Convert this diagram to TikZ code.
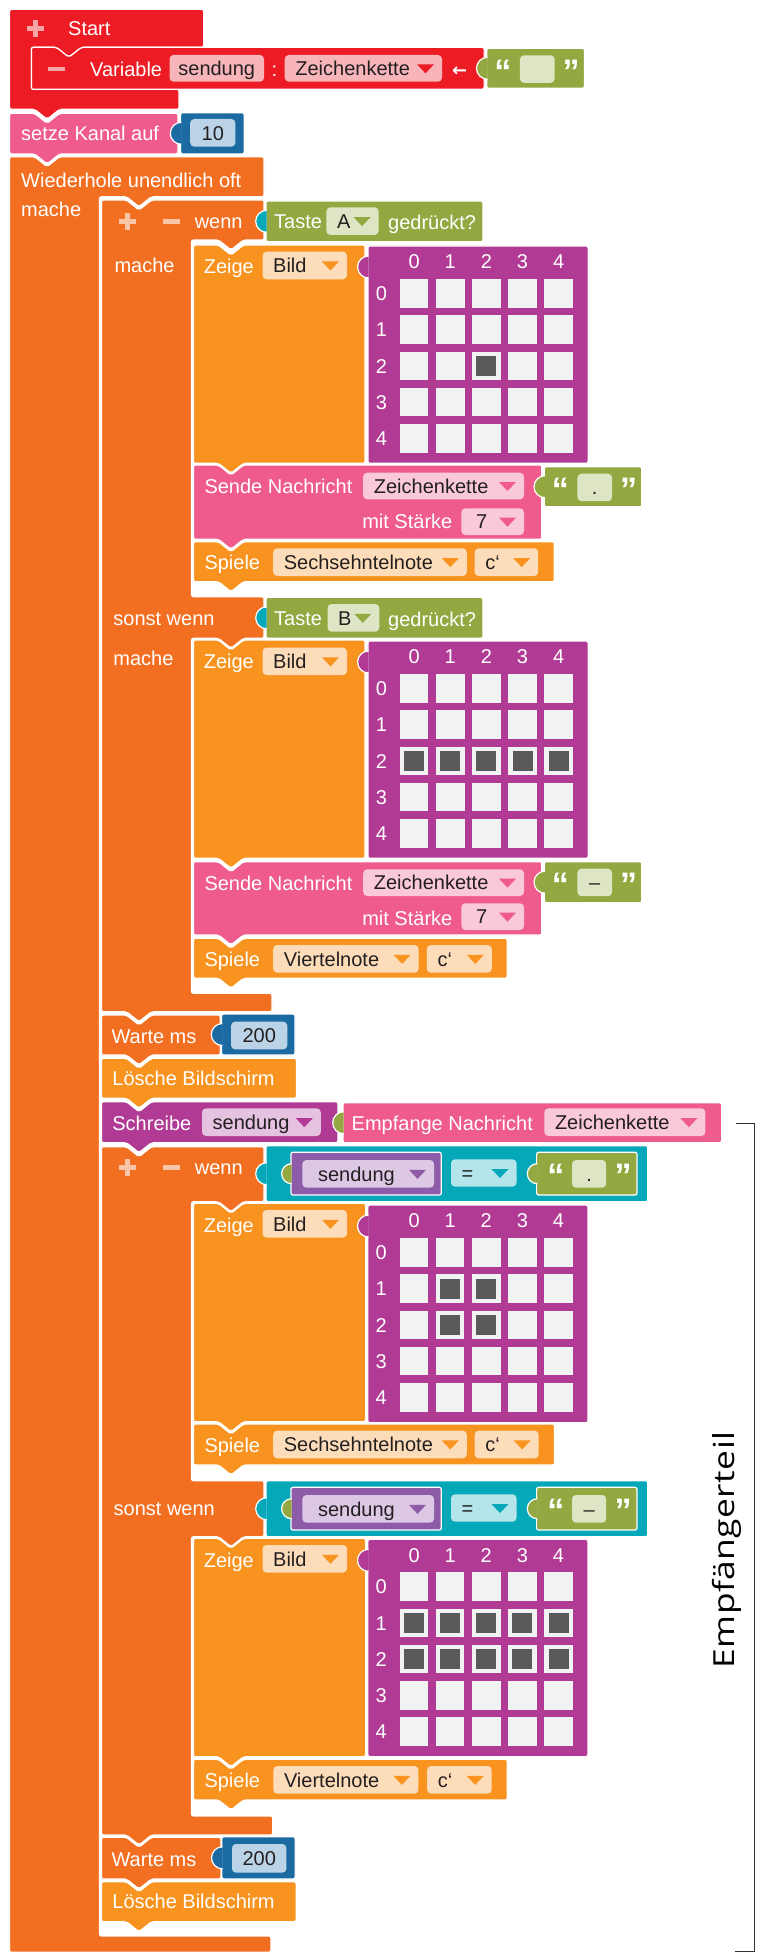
\documentclass[tikz,border=0pt]{standalone}
\usepackage{fontspec}
\setmainfont{Liberation Sans}
\newfontfamily\emfont[FakeStretch=1.22, LetterSpace=1.5]{Open Sans}
\newfontfamily\arrowfont{DejaVu Sans}
\definecolor{cred}{HTML}{ED1C24}
\definecolor{credl}{HTML}{F7B5B9}
\definecolor{cpink}{HTML}{EF5B8D}
\definecolor{cpinkl}{HTML}{F9C8DA}
\definecolor{corange}{HTML}{F26F21}
\definecolor{cyel}{HTML}{F7931E}
\definecolor{cyell}{HTML}{FDDDB9}
\definecolor{cpurple}{HTML}{B13B94}
\definecolor{cpurl}{HTML}{E5C3E0}
\definecolor{cblue}{HTML}{1B6AA1}
\definecolor{cbluel}{HTML}{BBD3E6}
\definecolor{cgreen}{HTML}{93A840}
\definecolor{cgreenl}{HTML}{DDE5C4}
\definecolor{cteal}{HTML}{05A8B8}
\definecolor{ccyanl}{HTML}{B3E5EB}
\definecolor{cvar}{HTML}{8E5BA8}
\definecolor{cvarl}{HTML}{DCC8E5}
\definecolor{ccell}{HTML}{F1F2F2}
\definecolor{cdark}{HTML}{58595B}
\definecolor{txt}{HTML}{231F20}
\newcommand{\blkfont}{\fontsize{20}{24}\selectfont}
\newcommand{\qfont}{\fontsize{34}{36}\selectfont\bfseries}
\tikzset{
  blk/.style={draw=white, line width=1.2pt, rounded corners=2pt},
  bt/.style={font=\blkfont, text=white, inner sep=0pt, anchor=west, text height=14.4pt, text depth=0pt},
  dt/.style={bt, text=txt},
  pm/.style={white, opacity=0.6},
  q/.style={font=\qfont, text=white, inner sep=0pt, anchor=base},
  bracket/.style={draw=black!80, line width=1.3pt},
}
% statement block with top notch and bottom tab
\newcommand{\stmt}[5]{%
  \path[blk, fill=#1] ({#2},{#3}) -- ({#2+25},{#3}) -- ({#2+37.5},{#3+10}) -- ({#2+50},{#3}) -- ({#4},{#3}) -- ({#4},{#5}) -- ({#2+50},{#5}) -- ({#2+37.5},{#5+10}) -- ({#2+25},{#5}) -- ({#2},{#5}) -- cycle;}
\newcommand{\bump}[4]{%
  \path[fill=#1, draw=white, line width=1.2pt] ({#2+0.7},{#3-#4}) arc[start angle=-90, end angle=-270, radius=#4];}
\newcommand{\valb}[7]{%
  \path[blk, fill=#1] ({#3},{#4}) rectangle ({#5},{#6});
  \bump{#2}{#3}{#7}{11}}
\newcommand{\dd}[8]{%
  \path[fill=#2, rounded corners=4pt] ({#4},{#5}) rectangle ({#6},{#7});
  \node[dt] (#1) at ({#4+10.5},{(#5+#7)/2}) {#8};
  \fill[#3] ({#6-25},{(#5+#7)/2-4}) -- ++(17,0) -- ++(-8.5,9) -- cycle;}
\newcommand{\fld}[7]{%
  \path[fill=#2, rounded corners=4pt] ({#3},{#4}) rectangle ({#5},{#6});
  \node[dt, anchor=center] (#1) at ({(#3+#5)/2},{(#4+#6)/2}) {#7};}
\newcommand{\strblk}[6]{%
  \path[blk, fill=cgreen] ({#2},{#3}) rectangle ({#4},{#5});
  \bump{cgreen}{#2}{(#3+#5)/2}{11}
  \node[q] (#1a) at ({#2+0.165*(#4-#2)},{#3+35}) {“};
  \fld{#1f}{cgreenl}{#2+0.34*(#4-#2)}{#3+7}{#2+0.695*(#4-#2)}{#3+34.5}{#6}
  \node[q] (#1b) at ({#2+0.865*(#4-#2)},{#3+35}) {”};}
\newcommand{\plusm}[2]{%
  \fill[pm] ({#1-8.5},{#2-2.2}) rectangle ({#1+8.5},{#2+2.2});
  \fill[pm] ({#1-2.2},{#2-8.5}) rectangle ({#1-2.2+4.4},{#2-2.2});
  \fill[pm] ({#1-2.2},{#2+2.2}) rectangle ({#1+2.2},{#2+8.5});}
\newcommand{\minusm}[2]{%
  \fill[pm] ({#1-8.5},{#2-2.2}) rectangle ({#1+8.5},{#2+2.2});}
\newcommand{\ledgrid}[4]{%
  \foreach \ci in {0,...,4} {\node[bt, anchor=center] (#1c\ci) at ({#2+46.3+36.1*\ci},{#3+15.7}) {\ci};}
  \foreach \ri in {0,...,4} {%
    \node[bt, anchor=center] (#1r\ri) at ({#2+13.5},{#3+47.3+36.25*\ri}) {\ri};
    \foreach \ci in {0,...,4} {\fill[ccell] ({#2+46.3+36.1*\ci-14.25},{#3+47.3+36.25*\ri-14.25}) rectangle ++(28.5,28.5);}}
  \foreach \ri/\ci in {#4} {\fill[cdark] ({#2+46.3+36.1*\ci-10},{#3+47.3+36.25*\ri-10}) rectangle ++(20,20);}}
\newcommand{\cmpblk}[5]{% name, y0, y1, content
  \valb{cteal}{cteal}{266}{#2}{647.7}{#3}{(#2+#3)/2}
  \path[blk, fill=cvar] (290.9,{#2+6.6}) rectangle (441.3,{#3-6.7});
  \bump{cgreen}{290.9}{(#2+#3)/2}{10}
  \dd{#1v}{cvarl}{cvar}{302.4}{#2+14.3}{434}{#3-14}{\kern5pt sendung}
  \dd{#1e}{ccyanl}{cteal}{451}{#2+13.6}{516.5}{#3-15}{=}
  \path[blk, fill=cgreen] (536.6,{#2+6.6}) rectangle (637,{#3-6.7});
  \bump{cgreen}{536.6}{(#2+#3)/2}{10}
  \node[q] (#1qa) at (555.9,{#2+41.8}) {“};
  \fld{#1f}{cgreenl}{572}{#2+14.3}{606.2}{#3-14}{#4}
  \node[q] (#1qb) at (623,{#2+41.8}) {”};}
\begin{document}
\begin{tikzpicture}[x=1pt,y=-1pt]
\useasboundingbox (0,0) rectangle (761,1953);
\fill[white] (0,0) rectangle (761,1953);
% ---------- Start ----------
\path[blk, fill=cred] (9.6,9.3) -- (203.6,9.3) -- (203.6,47.3) -- (81.4,47.3) -- (68.9,57.3) -- (56.4,47.3) -- (31.4,47.3) -- (31.4,89.3) -- (179,89.3) -- (179,109.3) -- (59.6,109.3) -- (47.1,119.3) -- (34.6,109.3) -- (9.6,109.3) -- cycle;
\path[blk, fill=cred] (31.4,47.3) -- (56.4,47.3) -- (68.9,57.3) -- (81.4,47.3) -- (484.1,47.3) -- (484.1,89.3) -- (31.4,89.3) -- cycle;
\plusm{35.4}{28.4}
\node[bt] (tStart) at (68,28) {Start};
\minusm{56.4}{69}
\node[bt] (tVar) at (90,69) {Variable};
\fld{pSend0}{credl}{169.5}{55}{264}{81.7}{sendung}
\node[bt, anchor=center] (tColon) at (274.4,69) {:};
\dd{pZk0}{credl}{cred}{284.7}{55}{442}{81.7}{Zeichenkette}
\node[bt, anchor=center, font=\arrowfont\fontsize{18}{20}\selectfont\bfseries] (tArrow) at (459.6,69) {←};
\strblk{s0}{486.8}{48.3}{584.4}{88.3}{}
% ---------- setze Kanal ----------
\stmt{cpink}{9.6}{113.3}{178}{154}
\node[bt] (tSetze) at (21,133.3) {setze Kanal auf};
\valb{cblue}{cblue}{180.6}{112.7}{244.2}{154}{133.3}
\fld{f10}{cbluel}{190.2}{119}{235.4}{146.7}{10}
% ---------- Wiederhole ----------
\path[blk, fill=corange] (9.6,156.7) -- (34.6,156.7) -- (47.1,166.7) -- (59.6,156.7) -- (264,156.7) -- (264,196.7) -- (151.5,196.7) -- (139,206.7) -- (126.5,196.7) -- (99.5,196.7) -- (99.5,1936) -- (270.9,1936) -- (270.9,1952.3) -- (9.6,1952.3) -- cycle;
\node[bt] (tWh) at (21,180) {Wiederhole unendlich oft};
\node[bt] (tMache0) at (21,209) {mache};
% ---------- If 1 ----------
\path[blk, fill=corange] (101.5,200) -- (126.5,200) -- (139,210) -- (151.5,200) -- (264,200) -- (264,240) -- (243.5,240) -- (231,250) -- (218.5,240) -- (191.5,240) -- (191.5,596.7) -- (264,596.7) -- (264,638.3) -- (243.5,638.3) -- (231,648.3) -- (218.5,638.3) -- (191.5,638.3) -- (191.5,993.3) -- (272,993.3) -- (272,1011.7) -- (151.5,1011.7) -- (139,1021.7) -- (126.5,1011.7) -- (101.5,1011.7) -- cycle;
\plusm{127.5}{221.7}
\minusm{171.4}{221.7}
\node[bt] (tWenn1) at (194.6,221.7) {wenn};
\valb{cgreen}{cteal}{266}{201}{482.9}{241.7}{221.3}
\node[bt] (tTasteA) at (274,221.7) {Taste};
\dd{pA}{cgreenl}{cgreen}{326.4}{207.3}{378.6}{235}{A}
\node[bt] (tGedA) at (388,222.7) {gedrückt?};
\node[bt] (tMache1) at (114.3,265) {mache};
% Zeige 1
\stmt{cyel}{193.5}{245}{365}{463.3}
\node[bt] (tZeige1) at (203.6,266.7) {Zeige};
\dd{pBild1}{cyell}{cyel}{262.5}{251.7}{347}{279.3}{Bild}
\valb{cpurple}{cpurple}{367.9}{246}{588.2}{463.3}{267}
\ledgrid{gA}{367.9}{246}{2/2}
% Sende 1
\stmt{cpink}{193.5}{465}{541.8}{539.3}
\node[bt] (tSende1) at (204.3,486.7) {Sende Nachricht};
\dd{pZk1}{cpinkl}{cpink}{363.2}{472.7}{524}{499.3}{Zeichenkette}
\node[bt, anchor=east] (tStaerke1) at (452.5,521.7) {mit Stärke};
\dd{pSt1}{cpinkl}{cpink}{461.4}{508.3}{524}{535}{\kern4pt 7}
\strblk{s1}{544.3}{466.7}{641.8}{506.7}{.}
% Spiele 1
\stmt{cyel}{193.5}{541.7}{554.3}{581.7}
\node[bt] (tSpiele1) at (204.3,562.7) {Spiele};
\dd{pNote1}{cyell}{cyel}{273.2}{548.3}{466.8}{576}{Sechsehntelnote}
\dd{pC1}{cyell}{cyel}{474.6}{548.3}{538.2}{576}{c‘}
% sonst wenn 1
\node[bt] (tSonst1) at (113.2,618.3) {sonst wenn};
\valb{cgreen}{cteal}{266}{597.3}{482.9}{638.3}{617.8}
\node[bt] (tTasteB) at (274,617.8) {Taste};
\dd{pB}{cgreenl}{cgreen}{327.5}{604}{379.3}{631.7}{B}
\node[bt] (tGedB) at (388,618.8) {gedrückt?};
\node[bt] (tMache2) at (113.2,658.3) {mache};
% Zeige 2
\stmt{cyel}{193.5}{640}{365}{858.3}
\node[bt] (tZeige2) at (203.6,661.7) {Zeige};
\dd{pBild2}{cyell}{cyel}{262.5}{647.7}{347}{675}{Bild}
\valb{cpurple}{cpurple}{367.9}{641}{588.2}{858.3}{662}
\ledgrid{gB}{367.9}{641}{2/0,2/1,2/2,2/3,2/4}
% Sende 2
\stmt{cpink}{193.5}{861.7}{541.8}{935}
\node[bt] (tSende2) at (204.3,883.3) {Sende Nachricht};
\dd{pZk2}{cpinkl}{cpink}{363.2}{869.3}{524}{896}{Zeichenkette}
\node[bt, anchor=east] (tStaerke2) at (452.5,918.3) {mit Stärke};
\dd{pSt2}{cpinkl}{cpink}{461.4}{903.3}{524}{930}{\kern4pt 7}
\strblk{s2}{544.3}{861.7}{641.8}{902.7}{–}
% Spiele 2
\stmt{cyel}{193.5}{938.3}{507.1}{978.3}
\node[bt] (tSpiele2) at (204.3,959.3) {Spiele};
\dd{pNote2}{cyell}{cyel}{273.2}{945}{418.6}{972.7}{Viertelnote}
\dd{pC2}{cyell}{cyel}{426.8}{945}{491.8}{972.7}{c‘}
% ---------- Warte 1 ----------
\stmt{corange}{101.5}{1015}{220.3}{1055}
\node[bt] (tWarte1) at (111.4,1036) {Warte ms};
\valb{cblue}{cblue}{221.6}{1014}{295}{1055}{1034.5}
\fld{f200a}{cbluel}{231}{1021.7}{287.4}{1049.3}{200}
% ---------- Loesche 1 ----------
\stmt{cyel}{101.5}{1058.3}{296.4}{1098.3}
\node[bt] (tLoesche1) at (112.2,1078.3) {Lösche Bildschirm};
% ---------- Schreibe ----------
\stmt{cpurple}{101.5}{1101.7}{337.9}{1142.7}
\node[bt] (tSchreibe) at (112.2,1123.3) {Schreibe};
\dd{pSendung}{cpurl}{cpurple}{202}{1108.3}{320.8}{1136}{sendung}
\valb{cpink}{cgreen}{343}{1102.7}{721.6}{1142.7}{1122.7}
\node[bt] (tEmpf) at (351.5,1123.3) {Empfange Nachricht};
\dd{pZk3}{cpinkl}{cpink}{544.3}{1108.3}{705.4}{1136}{Zeichenkette}
% ---------- If 2 ----------
\path[blk, fill=corange] (101.5,1146.7) -- (126.5,1146.7) -- (139,1156.7) -- (151.5,1146.7) -- (264,1146.7) -- (264,1201.7) -- (243.5,1201.7) -- (231,1211.7) -- (218.5,1201.7) -- (191.5,1201.7) -- (191.5,1480.7) -- (264,1480.7) -- (264,1536.7) -- (243.5,1536.7) -- (231,1546.7) -- (218.5,1536.7) -- (191.5,1536.7) -- (191.5,1816) -- (272.8,1816) -- (272.8,1835) -- (151.5,1835) -- (139,1845) -- (126.5,1835) -- (101.5,1835) -- cycle;
\plusm{127.6}{1167.3}
\minusm{171.2}{1167.3}
\node[bt] (tWenn2) at (194.7,1167.3) {wenn};
\cmpblk{c1}{1145.7}{1201.7}{.}
\node[bt] (tMache3) at (114.8,1210.7) {mache};
% Zeige 3
\stmt{cyel}{193.5}{1203.3}{365.6}{1421.7}
\node[bt] (tZeige3) at (203.6,1225) {Zeige};
\dd{pBild3}{cyell}{cyel}{262.5}{1210}{347}{1237.6}{Bild}
\valb{cpurple}{cpurple}{367.8}{1205}{587.9}{1422.7}{1226}
\ledgrid{gC}{367.8}{1205}{1/1,1/2,2/1,2/2}
% Spiele 3
\stmt{cyel}{193.5}{1424}{554.5}{1465}
\node[bt] (tSpiele3) at (204.3,1445) {Spiele};
\dd{pNote3}{cyell}{cyel}{273.2}{1430.6}{466.8}{1458.3}{Sechsehntelnote}
\dd{pC3}{cyell}{cyel}{474.6}{1430.6}{538.7}{1458.3}{c‘}
% sonst wenn 2
\node[bt] (tSonst2) at (113.5,1508.3) {sonst wenn};
\cmpblk{c2}{1480.7}{1536.7}{–}
\node[bt] (tMache4) at (113.5,1549.3) {mache};
% Zeige 4
\stmt{cyel}{193.5}{1538.3}{365.6}{1756.7}
\node[bt] (tZeige4) at (203.6,1560) {Zeige};
\dd{pBild4}{cyell}{cyel}{262.5}{1545}{347}{1572.6}{Bild}
\valb{cpurple}{cpurple}{367.8}{1539.3}{587.9}{1756.7}{1560.3}
\ledgrid{gD}{367.8}{1539.3}{1/0,1/1,1/2,1/3,1/4,2/0,2/1,2/2,2/3,2/4}
% Spiele 4
\stmt{cyel}{193.5}{1759.3}{507.3}{1800}
\node[bt] (tSpiele4) at (204.3,1780.3) {Spiele};
\dd{pNote4}{cyell}{cyel}{273.3}{1766}{418.4}{1793.7}{Viertelnote}
\dd{pC4}{cyell}{cyel}{427.2}{1766}{491.7}{1793.7}{c‘}
% ---------- Warte 2 ----------
\stmt{corange}{101.5}{1837.3}{220.9}{1879}
\node[bt] (tWarte2) at (111.4,1859.3) {Warte ms};
\valb{cblue}{cblue}{221.8}{1836.7}{295.1}{1879}{1857.8}
\fld{f200b}{cbluel}{232}{1844}{286.4}{1872.7}{200}
% ---------- Loesche 2 ----------
\stmt{cyel}{101.5}{1881.7}{296.1}{1921.7}
\node[bt] (tLoesche2) at (112.2,1901.7) {Lösche Bildschirm};
% ---------- bracket ----------
\coordinate (brTop) at (736.2,1123.3);
\coordinate (brTR) at (754.7,1123.3);
\coordinate (brBR) at (754.7,1951.6);
\coordinate (brBot) at (735.4,1951.6);
\draw[bracket] (brTop) -- (brTR) -- (brBR) -- (brBot);
\node[rotate=90, font=\emfont\fontsize{29}{32}\selectfont, text=black, inner sep=0pt] (tEmpfTeil) at (727,1550) {Empfängerteil};
\end{tikzpicture}
\end{document}
